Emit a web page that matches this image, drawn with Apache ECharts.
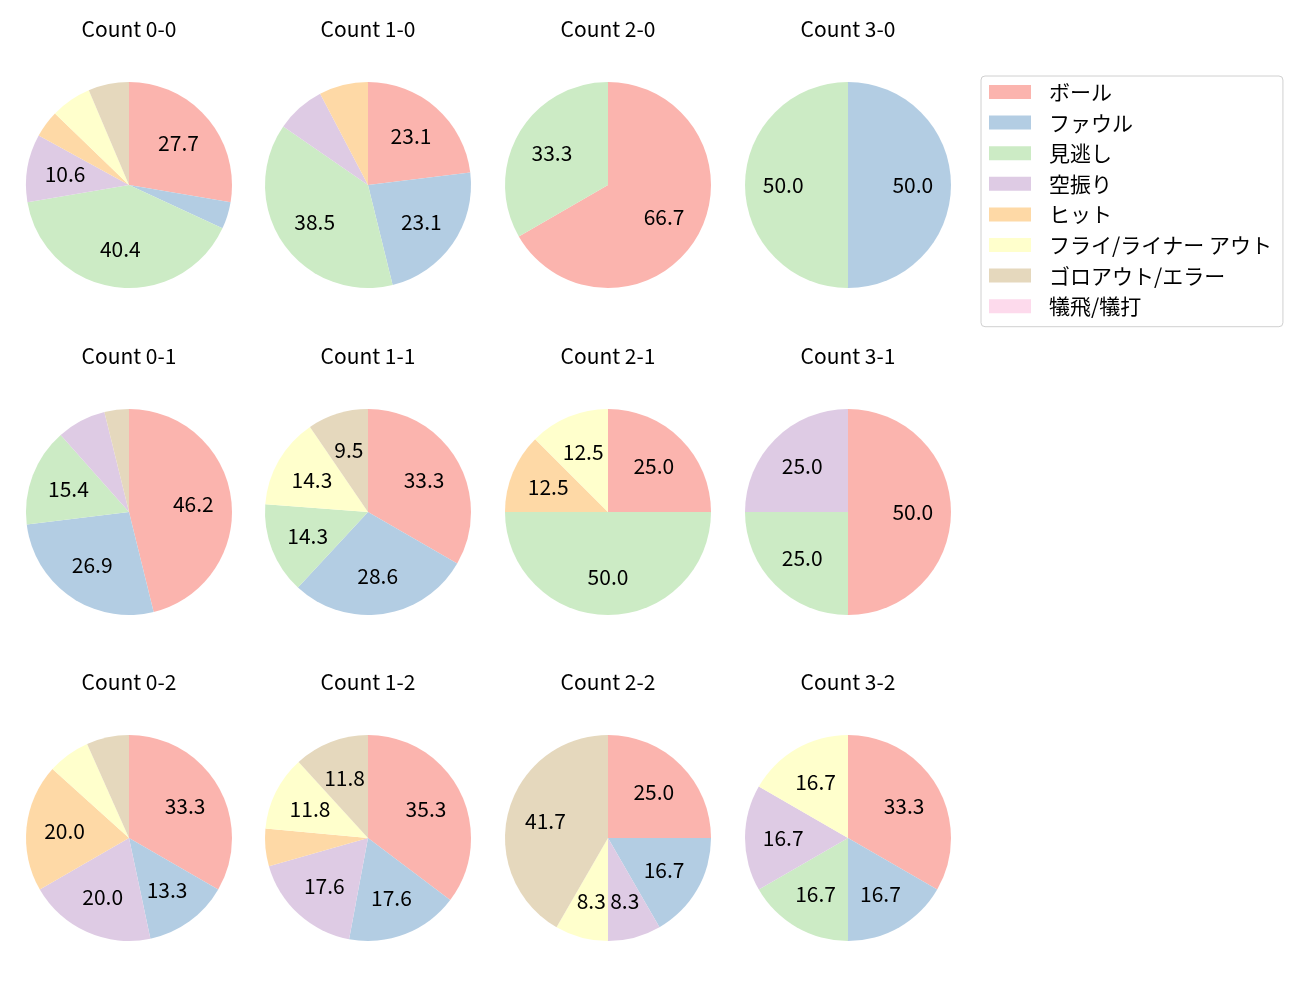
<!DOCTYPE html>
<html><head><meta charset="utf-8">
<script src="https://cdn.jsdelivr.net/npm/echarts@6/dist/echarts.min.js"></script>
<style>html,body{margin:0;padding:0;background:#fff}#c{width:1300px;height:1000px}</style>
</head><body><div id="c"></div>
<script>
const categories = ['ボール','ファウル','見逃し','空振り','ヒット','フライ/ライナー アウト','ゴロアウト/エラー','犠飛/犠打'];
const colors = ['#fbb4ae','#b3cde3','#ccebc5','#decbe4','#fed9a6','#ffffcc','#e5d8bd','#fddaec'];
const counts = ['0-0','1-0','2-0','3-0','0-1','1-1','2-1','3-1','0-2','1-2','2-2','3-2'];
// pitch counts per category (order as categories)
const c00 = [13,2,19,5,2,3,3,0];
const c10 = [3,3,5,1,1,0,0,0];
const c20 = [2,0,1,0,0,0,0,0];
const c30 = [0,1,1,0,0,0,0,0];
const c01 = [12,7,4,2,0,0,1,0];
const c11 = [7,6,3,0,0,3,2,0];
const c21 = [2,0,4,0,1,1,0,0];
const c31 = [2,0,1,1,0,0,0,0];
const c02 = [5,2,0,3,3,1,1,0];
const c12 = [6,3,0,3,1,2,2,0];
const c22 = [3,2,0,1,0,1,5,0];
const c32 = [2,1,1,1,0,1,0,0];
const allValues = [c00,c10,c20,c30,c01,c11,c21,c31,c02,c12,c22,c32];

const colX = [129, 368, 608, 848];
const rowY = [185, 512, 838];
const R = 103;
const FONT = '"Noto Sans CJK JP", "Noto Sans", sans-serif';
const FS = 21;

const series = [];
const titles = [];
counts.forEach((cnt, i) => {
  const vals = allValues[i];
  const total = vals.reduce((a, b) => a + b, 0);
  const cx = colX[i % 4], cy = rowY[Math.floor(i / 4)];
  series.push({
    type: 'pie', center: [cx, cy], radius: [0, R], startAngle: 90, clockwise: true,
    animation: false, silent: true, label: {show: false}, labelLine: {show: false},
    itemStyle: {borderWidth: 0}, emphasis: {disabled: true},
    data: categories.map((n, k) => ({name: n, value: vals[k], itemStyle: {color: colors[k]}}))
  });
  series.push({
    type: 'pie', center: [cx, cy], radius: [R * 0.2, R], startAngle: 90, clockwise: true,
    animation: false, silent: true, legendHoverLink: false, labelLine: {show: false},
    itemStyle: {color: 'rgba(0,0,0,0)', borderWidth: 0}, emphasis: {disabled: true},
    label: {show: true, position: 'inside', color: '#000', fontSize: FS, fontFamily: FONT,
      padding: [0, 0, 4, 0],
      formatter: p => { const pct = p.value / total * 100; return pct >= 8 ? pct.toFixed(1) : ''; }},
    data: categories.map((n, k) => ({name: n, value: vals[k]}))
  });
  titles.push({text: 'Count ' + cnt, left: cx, top: cy - 166, textAlign: 'center', padding: 0,
    textStyle: {fontSize: FS, fontWeight: 'normal', color: '#000', fontFamily: FONT}});
});

const chart = echarts.init(document.getElementById('c'), null, {renderer: 'canvas'});
chart.setOption({
  backgroundColor: '#fff',
  animation: false,
  title: titles,
  legend: {
    data: categories, left: 981, top: 76, orient: 'vertical', icon: 'rect',
    itemWidth: 42, itemHeight: 14, itemGap: 9.6, selectedMode: false,
    padding: [5.5, 11, 10, 8], borderColor: '#d0d0d0', borderWidth: 1, borderRadius: 4,
    textStyle: {fontSize: FS, color: '#000', fontFamily: FONT, padding: [0, 0, 0, 13]}
  },
  series: series
});
</script></body></html>
